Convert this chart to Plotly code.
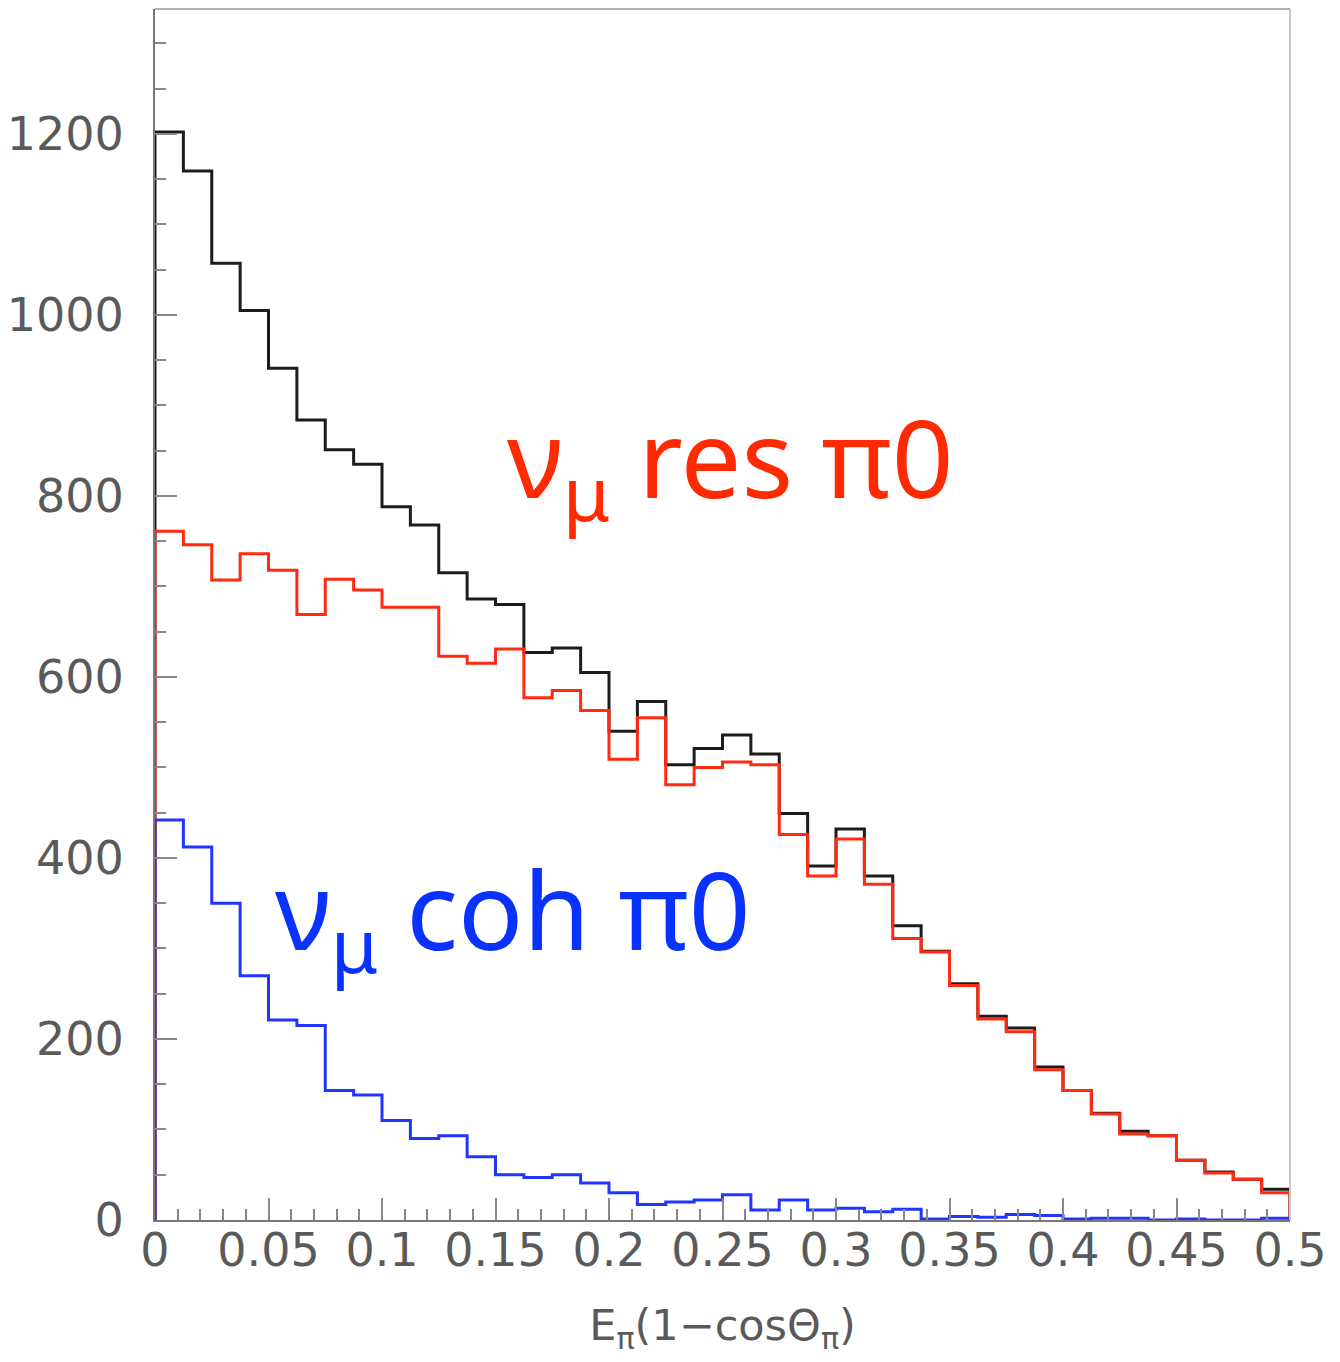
import plotly.graph_objects as go

# 40 bins from 0 to 0.5 (width 0.0125)
bin_edges = [round(i * 0.0125, 4) for i in range(41)]

total = [1202, 1159, 1057, 1005, 941, 884, 851, 835, 788, 768,
         715, 686, 680, 627, 632, 605, 540, 573, 503, 521,
         536, 515, 449, 391, 432, 380, 325, 297, 261, 225,
         212, 169, 143, 118, 98, 93, 66, 53, 45, 34]

res_pi0 = [761, 746, 707, 736, 718, 669, 708, 696, 677, 677,
           623, 615, 631, 577, 585, 563, 509, 555, 481, 500,
           506, 503, 426, 380, 421, 371, 311, 296, 259, 222,
           208, 166, 143, 117, 95, 93, 66, 52, 45, 30]

coh_pi0 = [442, 412, 350, 270, 221, 215, 143, 138, 110, 90,
           93, 70, 50, 47, 50, 41, 30, 17, 20, 22,
           28, 11, 22, 11, 13, 9, 12, 1, 4, 3,
           6, 5, 1, 2, 2, 0, 1, 0, 0, 2]

x_ticks = [0, 0.05, 0.1, 0.15, 0.2, 0.25, 0.3, 0.35, 0.4, 0.45, 0.5]
x_tick_labels = ["0", "0.05", "0.1", "0.15", "0.2", "0.25", "0.3", "0.35", "0.4", "0.45", "0.5"]
y_ticks = [0, 200, 400, 600, 800, 1000, 1200]
y_tick_labels = ["0", "200", "400", "600", "800", "1000", "1200"]

x_title = "E<sub>π</sub>(1−cosΘ<sub>π</sub>)"
label_res = "ν<sub>μ</sub> res π0"
label_coh = "ν<sub>μ</sub> coh π0"


def outline(values):
    xs = [bin_edges[0]] + bin_edges[:-1] + [bin_edges[-1], bin_edges[-1]]
    ys = [0] + values + [values[-1], 0]
    return xs, ys


fig = go.Figure()
for vals, col in [(total, "#1c1c1c"), (res_pi0, "#ff2a10"), (coh_pi0, "#2036ff")]:
    xs, ys = outline(vals)
    fig.add_trace(go.Scatter(x=xs, y=ys, mode="lines", line_shape="hv",
                             line=dict(color=col, width=3), showlegend=False,
                             hoverinfo="skip"))

axis_font = dict(family="DejaVu Sans", size=46, color="#5a5a5a")

fig.update_layout(
    width=1340, height=1362,
    margin=dict(l=155, r=50, t=9, b=142),
    paper_bgcolor="white", plot_bgcolor="white",
    showlegend=False,
    xaxis=dict(range=[0, 0.5], tickvals=x_ticks, ticktext=x_tick_labels,
               ticks="inside", ticklen=22, tickwidth=1.5, tickcolor="#888888",
               minor=dict(dtick=0.01, ticks="inside", ticklen=11, tickwidth=1.5, tickcolor="#888888"),
               showline=True, linecolor="#777777", linewidth=2,
               showgrid=False, zeroline=False, tickfont=axis_font,
               ticklabelstandoff=-11, automargin=False,
               title=dict(text=x_title, font=dict(family="DejaVu Sans", size=43, color="#5a5a5a"),
                          standoff=34)),
    yaxis=dict(range=[0, 1338], tickvals=y_ticks, ticktext=y_tick_labels,
               ticks="inside", ticklen=22, tickwidth=1.5, tickcolor="#888888",
               minor=dict(dtick=50, ticks="inside", ticklen=11, tickwidth=1.5, tickcolor="#888888"),
               showline=True, linecolor="#777777", linewidth=2,
               showgrid=False, zeroline=False, tickfont=axis_font,
               ticklabelstandoff=20, automargin=False),
)

# frame (top and right borders)
fig.add_shape(type="line", xref="paper", yref="paper", x0=0, x1=1, y0=1, y1=1,
              line=dict(color="#b0b0b0", width=2))
fig.add_shape(type="line", xref="paper", yref="paper", x0=1, x1=1, y0=0, y1=1,
              line=dict(color="#c8c8c8", width=2))

fig.add_annotation(x=0.1542, y=836, xref="x", yref="y", text=label_res, showarrow=False,
                   xanchor="left", yanchor="middle",
                   font=dict(family="Noto Sans", size=108, color="#ff2a00"))
fig.add_annotation(x=0.052, y=337, xref="x", yref="y", text=label_coh, showarrow=False,
                   xanchor="left", yanchor="middle",
                   font=dict(family="Noto Sans", size=108, color="#0a32ff"))

fig.write_html("out.html")
